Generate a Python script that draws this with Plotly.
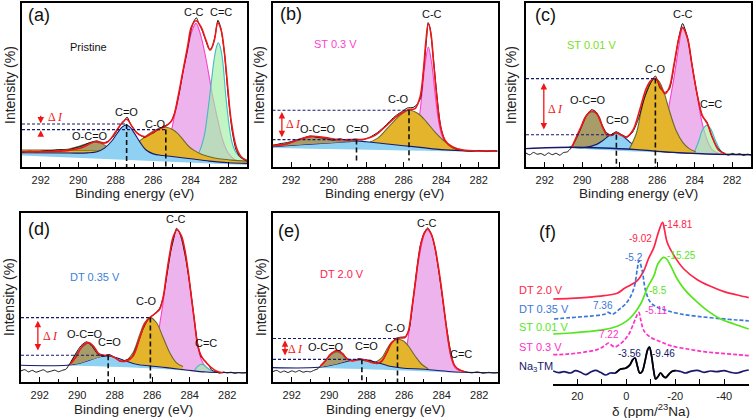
import plotly.graph_objects as go

W, H = 756, 418
FONT = "Arial, Liberation Sans, sans-serif"

# ====================== Panel (a) Pristine ======================
A_ENV_X = [293.0, 290.6, 289.9, 289.1, 288.5, 288.0, 287.66, 287.42, 287.12, 286.85, 286.4, 285.96, 285.6, 285.33, 285.06, 284.89, 284.71, 284.44, 284.17, 283.96, 283.72, 283.46, 283.19, 282.96, 282.74, 282.56, 282.38, 282.2, 282.03, 281.85, 281.58, 281.31, 281.0]
A_ENV_Y = [9.3, 10.0, 11.4, 15.4, 14.8, 21.5, 27.0, 29.1, 24.6, 20.5, 18.5, 21.5, 23.6, 25.0, 27.6, 31.7, 40.9, 57.1, 73.4, 85.6, 89.2, 85.6, 77.4, 71.3, 77.4, 88.0, 83.5, 69.3, 49.0, 28.7, 12.4, 6.3, 3.9]
A_DAT_X = [293.0, 292.6, 292.2, 291.8, 291.4, 291.0, 290.6, 290.2, 289.8, 289.4, 289.0, 288.7, 288.4, 288.1, 287.8, 287.55, 287.4, 287.2, 286.95, 286.7, 286.45, 286.2, 285.95, 285.7, 285.45, 285.2, 285.0, 284.8, 284.6, 284.4, 284.2, 284.0, 283.85, 283.7, 283.55, 283.4, 283.2, 283.0, 282.85, 282.7, 282.55, 282.4, 282.2, 282.0, 281.8, 281.6, 281.4, 281.2, 281.0]
A_DAT_Y = [9.0, 9.6, 9.2, 9.9, 10.1, 10.6, 10.3, 11.5, 12.8, 14.8, 15.9, 14.6, 15.8, 19.0, 24.8, 28.0, 30.5, 26.0, 21.8, 19.5, 18.0, 19.8, 21.0, 23.2, 24.8, 26.0, 28.5, 35.5, 46.0, 59.0, 70.0, 82.5, 88.5, 91.0, 87.0, 83.5, 77.0, 71.5, 73.5, 80.0, 89.5, 85.0, 69.0, 43.0, 22.5, 11.0, 6.5, 4.8, 3.5]
A_BASE_X = [293.0, 289.0, 286.5, 285.2, 284.2, 283.1, 282.0, 281.0]
A_BASE_Y = [8.7, 8.3, 7.3, 6.7, 5.3, 3.7, 2.6, 2.2]
A_CC_X = [285.6, 285.3, 285.06, 284.89, 284.71, 284.44, 284.17, 283.96, 283.72, 283.46, 283.19, 283.0, 282.83, 282.56, 282.3, 282.0, 281.6, 281.0]
A_CC_TOP = [6.8, 11.0, 20.5, 30.0, 39.0, 56.0, 71.0, 82.0, 87.6, 80.0, 66.0, 54.0, 43.0, 28.7, 16.5, 8.5, 4.0, 2.5]
A_CC_BX = [285.6, 284.2, 283.1, 282.0, 281.0]
A_CC_BY = [6.6, 5.3, 3.7, 2.6, 2.2]
A_CdC_X = [283.9, 283.6, 283.3, 283.1, 282.9, 282.75, 282.62, 282.53, 282.42, 282.3, 282.12, 281.95, 281.8, 281.6, 281.3, 281.0]
A_CdC_TOP = [4.5, 8.0, 18.0, 33.0, 52.0, 66.0, 73.5, 75.8, 73.0, 65.0, 42.0, 25.0, 15.0, 9.0, 5.5, 4.2]
A_CdC_BX = [283.9, 283.1, 282.0, 281.0]
A_CdC_BY = [4.3, 3.7, 2.6, 2.2]
A_CsO_X = [293.0, 290.0, 288.5, 287.5, 287.0, 286.6, 286.2, 285.8, 285.5, 285.3, 285.0, 284.7, 284.4, 284.1, 283.8, 283.4, 283.0, 282.5, 281.8, 281.0]
A_CsO_TOP = [10.4, 10.3, 10.5, 12.0, 14.0, 17.0, 20.5, 23.0, 24.0, 24.2, 23.0, 20.5, 16.5, 12.5, 10.0, 7.6, 6.2, 5.0, 4.2, 3.6]
A_OCO_X = [291.0, 290.5, 290.0, 289.6, 289.2, 289.0, 288.7, 288.45, 288.2]
A_OCO_TOP = [10.4, 11.0, 12.5, 14.0, 15.0, 15.0, 14.0, 12.3, 10.8]
A_OCO_BX = [291.0, 288.2]
A_OCO_BY = [10.3, 10.4]
A_CdO_X = [293.0, 290.5, 289.5, 289.0, 288.6, 288.2, 287.9, 287.65, 287.45, 287.25, 287.0, 286.7, 286.4, 286.0, 285.5, 285.0, 284.0, 283.0, 282.0, 281.0]
A_CdO_TOP = [8.7, 8.5, 8.6, 9.3, 11.5, 16.0, 21.0, 24.5, 25.6, 24.5, 20.5, 15.0, 10.5, 8.0, 7.0, 6.4, 5.0, 3.6, 2.6, 2.2]
A_CdO_BX = [293.0, 281.0]
A_CdO_BY = [7.0, 1.2]
A_LBL = ["C-C", "C=C", "C=O", "C-O", "O-C=O"]
A_LBL_X = [283.81, 282.38, 287.42, 285.87, 289.35]
A_LBL_Y = [94.7, 94.7, 33.7, 26.2, 19.1]

# ====================== Panel (b) ST 0.3 V ======================
B_ENV_X = [293.0, 292.33, 291.61, 290.9, 290.19, 289.48, 288.77, 288.06, 287.53, 287.0, 286.46, 286.02, 285.75, 285.4, 285.13, 284.95, 284.83, 284.69, 284.55, 284.42, 284.24, 284.07, 283.8, 283.44, 282.73, 281.0]
B_ENV_Y = [13.2, 13.8, 16.7, 18.7, 17.9, 16.7, 16.7, 17.1, 19.3, 24.4, 30.1, 33.5, 35.0, 35.6, 42.7, 58.9, 75.2, 87.4, 81.3, 65.0, 42.7, 26.4, 16.3, 12.2, 10.2, 9.8]
B_DAT_X = [293.0, 292.6, 292.2, 291.8, 291.4, 291.0, 290.6, 290.2, 289.8, 289.4, 289.0, 288.6, 288.2, 287.8, 287.4, 287.0, 286.7, 286.4, 286.1, 285.8, 285.5, 285.3, 285.1, 284.95, 284.8, 284.7, 284.6, 284.45, 284.3, 284.15, 284.0, 283.8, 283.5, 283.2, 282.8, 282.4, 282.0, 281.6, 281.2, 281.0]
B_DAT_Y = [13.0, 14.2, 14.9, 16.2, 17.5, 18.9, 18.0, 17.6, 16.4, 17.2, 16.2, 17.0, 16.6, 18.2, 21.0, 25.0, 28.5, 31.5, 33.8, 36.0, 36.3, 38.0, 42.0, 58.0, 76.0, 88.0, 85.0, 70.0, 52.0, 35.0, 23.0, 16.0, 12.5, 10.8, 10.0, 9.6, 10.1, 9.4, 9.9, 9.6]
B_CdO_X = [293.0, 291.5, 290.0, 289.0, 288.5, 288.0, 287.0, 286.0, 285.0, 284.0, 283.0, 281.0]
B_CdO_TOP = [12.4, 13.6, 14.6, 15.4, 15.9, 15.4, 14.2, 13.0, 11.8, 10.6, 10.0, 9.8]
B_CdO_BX = [293.0, 283.0, 281.0]
B_CdO_BY = [11.6, 9.6, 9.5]
B_OCO_X = [293.0, 292.3, 291.7, 291.2, 290.9, 290.5, 290.0, 289.5, 289.0, 288.6]
B_OCO_TOP = [13.2, 14.0, 16.0, 17.9, 18.5, 18.1, 16.8, 16.0, 15.8, 15.9]
B_OCO_BX = [293.0, 291.5, 290.0, 289.0, 288.6]
B_OCO_BY = [12.4, 13.6, 14.6, 15.4, 15.8]
B_CsO_X = [287.8, 287.35, 287.0, 286.64, 286.2, 285.72, 285.22, 284.78, 284.33, 283.89, 283.44, 283.0]
B_CsO_TOP = [15.2, 17.9, 22.0, 26.4, 31.5, 34.6, 32.5, 27.4, 21.3, 16.3, 12.8, 10.6]
B_CsO_BX = [287.8, 287.0, 286.0, 285.0, 284.0, 283.0]
B_CsO_BY = [15.2, 14.2, 13.0, 11.8, 10.6, 10.0]
B_CC_X = [285.6, 285.3, 285.13, 285.0, 284.86, 284.69, 284.51, 284.33, 284.15, 283.95, 283.7, 283.4]
B_CC_TOP = [13.0, 22.0, 34.0, 48.0, 63.0, 73.2, 63.0, 44.7, 28.5, 18.5, 13.5, 11.0]
B_CC_BX = [285.6, 283.4]
B_CC_BY = [12.8, 10.2]
B_LBL = ["O-C=O", "C=O", "C-O", "C-C"]
B_LBL_X = [290.55, 288.45, 286.29, 284.51]
B_LBL_Y = [23.4, 23.4, 41.7, 93.5]

# ====================== Panel (c) ST 0.01 V ======================
C_ENV_X = [290.55, 290.11, 289.76, 289.5, 289.23, 288.88, 288.7, 288.44, 288.18, 287.91, 287.65, 287.3, 286.94, 286.59, 286.33, 286.1, 285.8, 285.59, 285.36, 285.1, 284.83, 284.65, 284.39, 284.13, 283.86, 283.6, 283.33, 283.07, 282.72, 282.37]
C_ENV_Y = [12.2, 23.4, 31.5, 34.1, 32.5, 23.4, 19.9, 19.3, 20.7, 19.3, 18.3, 22.4, 34.6, 47.8, 52.8, 53.9, 48.4, 44.7, 48.4, 63.0, 79.3, 85.0, 78.5, 61.0, 43.7, 31.5, 26.4, 18.3, 10.2, 8.1]
C_DAT_X = [293.0, 292.8, 292.6, 292.4, 292.2, 292.0, 291.8, 291.6, 291.4, 291.2, 291.0, 290.8, 290.6, 290.3, 290.0, 289.75, 289.5, 289.25, 289.0, 288.75, 288.5, 288.2, 287.9, 287.6, 287.3, 287.0, 286.7, 286.4, 286.1, 285.85, 285.6, 285.35, 285.1, 284.85, 284.65, 284.4, 284.15, 283.9, 283.6, 283.35, 283.1, 282.8, 282.5, 282.2, 282.0, 281.8, 281.6, 281.4, 281.2, 281.0]
C_DAT_Y = [8.5, 7.4, 8.9, 7.8, 8.2, 7.1, 8.6, 7.5, 8.4, 7.2, 8.8, 9.2, 11.5, 18.0, 25.5, 32.0, 35.0, 33.5, 27.0, 21.5, 19.5, 21.5, 19.8, 18.2, 21.5, 29.5, 41.5, 50.0, 55.5, 48.0, 45.5, 47.5, 62.0, 79.0, 87.5, 79.5, 62.5, 46.0, 31.0, 27.5, 19.0, 12.0, 8.6, 7.2, 8.3, 7.5, 8.1, 7.0, 7.8, 7.3]
C_BASE_X = [293.0, 290.64, 288.88, 287.12, 285.36, 283.6, 281.0]
C_BASE_Y = [11.2, 12.0, 11.6, 10.6, 9.1, 8.1, 7.5]
C_CdO_X = [290.7, 289.9, 289.23, 288.88, 288.53, 288.18, 287.82, 287.47, 287.12, 286.6, 285.4, 284.2]
C_CdO_TOP = [12.0, 11.9, 13.8, 16.3, 19.3, 20.7, 18.7, 15.2, 12.6, 10.5, 9.1, 8.6]
C_CdO_BX = [290.7, 287.0, 284.2]
C_CdO_BY = [11.5, 9.4, 8.2]
C_OCO_X = [290.64, 290.46, 290.11, 289.85, 289.5, 289.14, 288.88, 288.62, 288.35]
C_OCO_TOP = [12.0, 14.2, 22.4, 30.5, 33.5, 31.5, 23.4, 17.3, 13.0]
C_OCO_BX = [290.64, 288.35]
C_OCO_BY = [12.0, 11.5]
C_CsO_X = [287.5, 287.12, 286.85, 286.59, 286.33, 286.1, 285.88, 285.62, 285.36, 285.0, 284.65, 284.3, 283.95]
C_CsO_TOP = [10.8, 20.3, 34.6, 45.7, 52.2, 53.9, 51.8, 44.7, 34.6, 22.4, 15.2, 11.2, 9.3]
C_CsO_BX = [287.5, 285.36, 283.95]
C_CsO_BY = [10.7, 9.1, 8.6]
C_CC_X = [285.9, 285.59, 285.36, 285.1, 284.83, 284.65, 284.39, 284.13, 283.86, 283.6, 283.33, 283.07, 282.72]
C_CC_TOP = [9.3, 20.0, 38.0, 55.0, 75.0, 85.4, 79.3, 61.0, 42.7, 26.4, 16.3, 10.6, 8.2]
C_CC_BX = [285.9, 283.6, 282.72]
C_CC_BY = [9.2, 8.1, 7.9]
C_CdC_X = [284.04, 283.77, 283.6, 283.37, 283.16, 282.9, 282.63, 282.37]
C_CdC_TOP = [8.6, 16.3, 22.4, 25.4, 23.4, 16.3, 10.2, 8.1]
C_CdC_BX = [284.04, 282.37]
C_CdC_BY = [8.3, 7.9]
C_LBL = ["O-C=O", "C=O", "C-O", "C-C", "C=C"]
C_LBL_X = [289.7, 288.12, 286.1, 284.65, 283.16]
C_LBL_Y = [40.7, 28.9, 60.0, 93.5, 38.2]

# ====================== Panel (d) DT 0.35 V ======================
D_ENV_X = [290.38, 290.03, 289.76, 289.41, 289.14, 288.88, 288.61, 288.35, 287.99, 287.73, 287.37, 287.02, 286.66, 286.4, 286.13, 285.78, 285.6, 285.42, 285.25, 285.07, 284.89, 284.68, 284.45, 284.27, 284.1, 283.92, 283.74, 283.57, 283.39, 283.21, 282.95, 282.59, 282.24]
D_ENV_Y = [10.5, 15.4, 20.9, 23.3, 21.3, 17.0, 15.8, 15.8, 14.4, 12.5, 12.5, 15.4, 26.3, 34.2, 38.1, 41.1, 43.1, 50.0, 62.8, 75.7, 85.6, 90.1, 86.6, 78.7, 66.8, 51.0, 35.2, 21.3, 15.4, 12.5, 9.5, 6.5, 5.5]
D_DAT_X = [293.0, 292.8, 292.6, 292.4, 292.2, 292.0, 291.8, 291.6, 291.4, 291.2, 291.0, 290.8, 290.6, 290.4, 290.1, 289.8, 289.5, 289.2, 288.9, 288.6, 288.3, 288.0, 287.7, 287.4, 287.1, 286.8, 286.5, 286.2, 285.9, 285.6, 285.4, 285.2, 285.0, 284.85, 284.7, 284.55, 284.4, 284.2, 284.0, 283.8, 283.6, 283.4, 283.2, 283.0, 282.8, 282.6, 282.4, 282.2, 282.0, 281.8, 281.6, 281.4, 281.2, 281.0]
D_DAT_Y = [6.6, 7.3, 6.0, 6.9, 5.8, 6.5, 7.2, 5.9, 6.4, 7.0, 6.1, 6.9, 7.6, 10.8, 16.5, 21.5, 23.8, 21.0, 16.4, 15.2, 16.3, 14.5, 12.2, 13.0, 14.5, 22.0, 31.0, 37.5, 40.0, 43.8, 51.0, 64.5, 78.0, 85.0, 91.0, 88.5, 83.0, 72.0, 58.0, 41.0, 24.0, 14.8, 12.8, 10.0, 6.8, 6.0, 5.2, 5.9, 5.4, 5.8, 5.1, 5.6, 5.3, 5.5]
D_CdO_X = [293.0, 290.56, 289.85, 289.32, 288.79, 288.35, 287.9, 287.37, 286.84, 286.13, 285.25, 284.19, 283.12, 281.0]
D_CdO_TOP = [9.9, 9.9, 11.1, 13.0, 15.0, 15.4, 14.4, 12.3, 10.5, 9.5, 8.5, 7.1, 5.9, 5.5]
D_CdO_BX = [293.0, 290.56, 286.0, 283.5, 281.0]
D_CdO_BY = [9.9, 9.7, 8.0, 6.3, 5.5]
D_OCO_X = [290.38, 290.0, 289.67, 289.41, 289.14, 288.87, 288.7]
D_OCO_TOP = [10.5, 17.4, 21.3, 22.9, 20.9, 17.0, 15.2]
D_OCO_BX = [290.38, 289.85, 289.32, 288.7]
D_OCO_BY = [10.2, 11.1, 13.0, 15.0]
D_CsO_X = [287.4, 287.02, 286.66, 286.4, 286.1, 285.78, 285.42, 285.07, 284.72, 284.36]
D_CsO_TOP = [12.0, 17.4, 28.3, 35.2, 38.1, 35.2, 26.3, 17.4, 11.5, 9.1]
D_CsO_BX = [287.4, 286.13, 285.25, 284.36]
D_CsO_BY = [11.8, 9.5, 8.5, 7.6]
D_CC_X = [286.2, 285.78, 285.6, 285.42, 285.25, 285.07, 284.89, 284.68, 284.45, 284.27, 284.1, 283.92, 283.74, 283.57, 283.39, 283.12, 282.77]
D_CC_TOP = [9.5, 20.0, 34.2, 47.0, 61.9, 74.7, 84.6, 90.1, 86.2, 77.7, 65.8, 50.0, 34.2, 21.3, 13.4, 8.5, 6.5]
D_CC_BX = [286.2, 285.25, 284.19, 283.12, 282.77]
D_CC_BY = [9.4, 8.5, 7.1, 5.9, 5.8]
D_CdC_X = [283.74, 283.55, 283.39, 283.2, 283.0, 282.77]
D_CdC_TOP = [7.0, 9.5, 10.5, 9.6, 7.8, 6.2]
D_CdC_BX = [283.74, 282.77]
D_CdC_BY = [6.7, 5.8]
D_LBL = ["O-C=O", "C=O", "C-O", "C-C", "C=C"]
D_LBL_X = [289.58, 288.26, 286.31, 284.72, 283.12]
D_LBL_Y = [28.7, 23.7, 48.0, 96.4, 23.3]

# ====================== Panel (e) DT 2.0 V ======================
E_ENV_X = [290.47, 290.2, 289.94, 289.58, 289.32, 289.05, 288.79, 288.52, 288.26, 287.99, 287.73, 287.46, 287.19, 286.93, 286.66, 286.36, 286.13, 285.96, 285.78, 285.6, 285.42, 285.25, 285.07, 284.89, 284.75, 284.54, 284.36, 284.19, 284.01, 283.83, 283.65, 283.48, 283.3, 283.04, 282.77]
E_ENV_Y = [9.5, 12.5, 16.4, 18.4, 17.0, 13.8, 12.5, 13.0, 13.4, 12.5, 11.5, 11.1, 12.5, 17.4, 23.3, 25.7, 26.1, 26.3, 30.2, 43.1, 57.9, 72.7, 83.6, 88.9, 90.5, 87.0, 79.6, 68.8, 54.9, 39.1, 24.3, 14.4, 9.5, 7.1, 5.9]
E_DAT_X = [293.0, 292.8, 292.6, 292.4, 292.2, 292.0, 291.8, 291.6, 291.4, 291.2, 291.0, 290.8, 290.6, 290.4, 290.15, 289.9, 289.6, 289.3, 289.0, 288.7, 288.4, 288.1, 287.8, 287.5, 287.2, 286.95, 286.7, 286.45, 286.2, 285.95, 285.75, 285.55, 285.35, 285.15, 284.95, 284.75, 284.55, 284.35, 284.15, 283.95, 283.75, 283.55, 283.35, 283.15, 282.95, 282.7, 282.4, 282.1, 281.8, 281.5, 281.2, 281.0]
E_DAT_Y = [6.2, 6.9, 5.7, 6.5, 5.6, 6.6, 5.9, 6.8, 5.8, 6.3, 6.0, 7.0, 7.9, 10.5, 13.5, 16.8, 18.8, 17.2, 13.2, 12.8, 13.8, 12.5, 12.9, 10.8, 12.0, 17.0, 22.8, 25.8, 26.5, 26.8, 30.5, 47.0, 65.0, 80.5, 88.0, 91.2, 87.5, 79.0, 65.0, 49.0, 33.0, 19.5, 10.5, 7.8, 6.8, 6.0, 5.4, 6.0, 5.2, 5.7, 5.3, 5.6]
E_CdO_X = [293.0, 290.56, 289.67, 288.96, 288.26, 287.55, 286.84, 286.13, 284.89, 283.48, 281.0]
E_CdO_TOP = [8.5, 8.7, 10.5, 12.5, 13.4, 11.9, 9.5, 8.3, 7.5, 6.1, 5.5]
E_CdO_BX = [293.0, 290.56, 286.0, 283.5, 281.0]
E_CdO_BY = [8.5, 8.3, 6.8, 5.6, 5.2]
E_OCO_X = [290.47, 290.2, 289.94, 289.58, 289.32, 289.05, 288.79]
E_OCO_TOP = [9.3, 12.5, 15.8, 17.8, 16.4, 13.4, 12.8]
E_OCO_BX = [290.47, 289.67, 288.96, 288.79]
E_OCO_BY = [8.8, 10.5, 12.5, 12.7]
E_CsO_X = [287.5, 287.19, 286.93, 286.66, 286.36, 286.04, 285.78, 285.42, 285.07, 284.72]
E_CsO_TOP = [11.8, 14.4, 19.4, 23.7, 25.3, 24.3, 21.3, 15.4, 10.5, 7.9]
E_CsO_BX = [287.5, 286.84, 286.13, 284.72]
E_CsO_BY = [11.8, 9.5, 8.3, 7.4]
E_CC_X = [286.05, 285.92, 285.78, 285.6, 285.42, 285.25, 285.07, 284.89, 284.75, 284.54, 284.36, 284.19, 284.01, 283.83, 283.65, 283.48, 283.3, 283.04]
E_CC_TOP = [8.3, 16.0, 27.3, 41.1, 56.9, 70.8, 81.6, 88.5, 90.1, 86.6, 78.7, 67.8, 54.0, 38.1, 23.3, 13.4, 8.5, 6.5]
E_CC_BX = [286.05, 284.89, 283.48, 283.04]
E_CC_BY = [8.3, 7.5, 6.1, 6.0]
E_LBL = ["O-C=O", "C=O", "C-O", "C-C", "C=C"]
E_LBL_X = [290.17, 287.99, 286.49, 284.77, 282.95]
E_LBL_Y = [20.8, 21.3, 32.2, 94.1, 16.4]

# ====================== shared XPS annotations (a..e) ======================
DASH_CdO_X = [287.42, 288.52, 288.18, 288.35, 288.26]
DASH_CdO_Y = [26.2, 16.7, 19.7, 15.8, 13.4]
DASH_CsO_X = [285.33, 285.72, 286.1, 286.1, 286.36]
DASH_CsO_Y = [22.8, 34.6, 53.9, 38.1, 25.7]
DASH_VBOT = [0.0, 4.0, 0.0, 0.0, 0.0]
ARROW_X = [292.0, 292.5, 292.05, 292.1, 292.36]
ARROW_LO = [22.4, 17.3, 22.0, 17.8, 14.8]
ARROW_HI = [26.6, 33.5, 51.2, 36.2, 24.7]
DELTA_X = [291.23, 291.88, 291.43, 291.44, 291.8]
DELTA_Y = [30.7, 26.0, 35.6, 27.3, 19.4]
TAG_TXT = ["(a)", "(b)", "(c)", "(d)", "(e)"]
TAG_X = [292.12, 292.0, 291.96, 292.06, 292.15]
TAG_Y = [92.7, 93.5, 92.5, 90.5, 89.5]
STATE_TXT = ["Pristine", "ST 0.3 V", "ST 0.01 V", "DT 0.35 V", "DT 2.0 V"]
STATE_X = [289.44, 289.66, 289.5, 289.05, 289.32]
STATE_Y = [73.4, 75.2, 74.2, 61.9, 63.8]
STATE_COL = ["#111111", "#ff3fcf", "#77e01c", "#3b7fd8", "#ff2250"]
XPS_TICKS = [292, 290, 288, 286, 284, 282]

# ====================== Panel (f) 23Na NMR ======================
F_NA_X = [29.8, 27.5, 25.4, 22.7, 20.7, 18.6, 16.6, 14.5, 12.5, 10.5, 8.4, 6.5, 4.4, 2.3, 0.3, -1.5, -2.6, -3.56, -4.5, -5.5, -6.5, -7.7, -8.7, -9.46, -10.3, -11.2, -12.0, -13.0, -14.0, -15.2, -16.1, -17.2, -18.6, -20.1, -22.2, -24.2, -26.3, -29.0, -31.7, -34.4, -37.1, -39.9, -42.6, -45.3, -48.0, -50.0]
F_NA_Y = [7.8, 6.8, 7.4, 6.6, 8.0, 7.0, 5.6, 7.2, 8.2, 7.0, 5.4, 6.6, 6.6, 9.0, 9.5, 11.5, 14.5, 15.6, 11.0, 6.6, 7.5, 14.0, 20.5, 22.2, 17.0, 8.0, 3.0, 4.5, 6.6, 4.5, 3.8, 5.5, 7.5, 8.0, 7.5, 6.6, 7.6, 8.2, 7.0, 7.8, 7.4, 8.0, 7.0, 6.6, 7.8, 8.4]
F_ST03_X = [29.8, 25.4, 20.7, 15.9, 11.8, 9.1, 7.22, 6.1, 4.8, 3.0, 0.95, -1.1, -2.9, -4.0, -5.11, -6.0, -7.2, -9.9, -14.0, -18.1, -24.9, -31.7, -38.5, -45.3, -50.0]
F_ST03_Y = [17.6, 17.8, 18.4, 19.4, 20.6, 22.6, 24.6, 23.4, 22.2, 23.4, 26.0, 30.0, 36.0, 40.0, 43.0, 38.0, 32.0, 28.0, 25.4, 23.0, 21.0, 19.4, 18.4, 17.6, 17.0]
F_ST001_X = [29.8, 22.7, 15.9, 9.1, 3.7, -0.4, -3.1, -5.85, -7.9, -8.5, -11.3, -12.9, -15.25, -16.5, -18.1, -20.8, -24.2, -28.3, -33.1, -38.5, -44.0, -50.0]
F_ST001_Y = [30.0, 30.6, 31.4, 32.6, 34.6, 38.0, 42.0, 48.0, 55.0, 57.4, 65.0, 72.0, 76.0, 75.0, 71.0, 63.0, 56.0, 50.0, 44.0, 39.0, 36.0, 33.0]
F_DT035_X = [29.5, 22.7, 15.9, 10.5, 8.6, 7.36, 5.7, 3.0, 0.3, -1.8, -3.4, -4.5, -5.2, -6.5, -7.9, -9.9, -12.7, -16.7, -22.2, -29.0, -37.1, -45.3, -50.0]
F_DT035_Y = [39.0, 39.8, 40.6, 41.4, 42.0, 43.0, 41.8, 44.6, 48.0, 52.6, 59.0, 69.0, 74.0, 68.0, 56.0, 49.0, 46.0, 44.0, 42.0, 40.6, 39.4, 38.4, 37.9]
F_DT20_X = [29.8, 22.7, 15.9, 9.1, 3.7, 0.7, -1.8, -4.5, -7.2, -9.02, -11.3, -12.7, -14.81, -15.6, -16.7, -19.5, -23.5, -29.0, -34.4, -39.9, -45.3, -50.0]
F_DT20_Y = [51.0, 51.4, 52.0, 53.0, 54.4, 57.4, 59.4, 62.0, 68.0, 75.0, 82.0, 89.0, 97.0, 92.6, 85.0, 77.0, 69.0, 62.6, 58.6, 55.4, 53.4, 51.8]
F_VAL_TXT = ["-14.81", "-9.02", "-5.2", "-15.25", "-8.5", "7.36", "-5.11", "7.22", "-3.56", "-9.46"]
F_VAL_X = [-21.5, -5.85, -3.0, -22.4, -12.9, 9.4, -12.0, 7.1, -1.5, -15.4]
F_VAL_Y = [96.0, 87.6, 76.0, 77.0, 56.0, 47.0, 44.0, 29.6, 18.4, 18.6]
F_NAMES = ["DT 2.0 V", "DT 0.35 V", "ST 0.01 V", "ST 0.3 V", "Na<sub>3</sub>TM"]
F_TICKS = [20, 0, -20, -40]
F_TICK_TXT = ["20", "0", "-20", "-40"]
F_MINOR = [10, -10, -30]

# ====================== styles ======================
NAVY = "#16196b"
RED = "#f01616"
C_RED, C_BLUE, C_GREEN, C_MAG = "#ff2448", "#3a78d8", "#55e61e", "#ff2fc8"
STY = {
    "CC": ("rgba(230,150,230,0.72)", "#ff40c8"),
    "CdC": ("rgba(160,240,165,0.65)", "#45b8c8"),
    "CsO": ("#e3b42c", "#6b6a2e"),
    "CdO": ("#8fd1f2", NAVY),
    "OCO": ("#a89c68", "#7b6b50"),
}

PANELS = [
    dict(ax=("x", "y"), env=(A_ENV_X, A_ENV_Y), dat=(A_DAT_X, A_DAT_Y), base=None,
         comps=[("CC", A_CC_X, A_CC_TOP, A_CC_BX, A_CC_BY),
                ("CdC", A_CdC_X, A_CdC_TOP, A_CdC_BX, A_CdC_BY),
                ("CsO", A_CsO_X, A_CsO_TOP, A_BASE_X, A_BASE_Y),
                ("OCO", A_OCO_X, A_OCO_TOP, A_OCO_BX, A_OCO_BY),
                ("CdO", A_CdO_X, A_CdO_TOP, A_CdO_BX, A_CdO_BY)],
         lbl=(A_LBL, A_LBL_X, A_LBL_Y)),
    dict(ax=("x2", "y2"), env=(B_ENV_X, B_ENV_Y), dat=(B_DAT_X, B_DAT_Y), base=None,
         comps=[("CC", B_CC_X, B_CC_TOP, B_CC_BX, B_CC_BY),
                ("CsO", B_CsO_X, B_CsO_TOP, B_CsO_BX, B_CsO_BY),
                ("CdO", B_CdO_X, B_CdO_TOP, B_CdO_BX, B_CdO_BY),
                ("OCO", B_OCO_X, B_OCO_TOP, B_OCO_BX, B_OCO_BY)],
         lbl=(B_LBL, B_LBL_X, B_LBL_Y)),
    dict(ax=("x3", "y3"), env=(C_ENV_X, C_ENV_Y), dat=(C_DAT_X, C_DAT_Y), base=(C_BASE_X, C_BASE_Y),
         comps=[("CC", C_CC_X, C_CC_TOP, C_CC_BX, C_CC_BY),
                ("CdC", C_CdC_X, C_CdC_TOP, C_CdC_BX, C_CdC_BY),
                ("OCO", C_OCO_X, C_OCO_TOP, C_OCO_BX, C_OCO_BY),
                ("CdO", C_CdO_X, C_CdO_TOP, C_CdO_BX, C_CdO_BY),
                ("CsO", C_CsO_X, C_CsO_TOP, C_CsO_BX, C_CsO_BY)],
         lbl=(C_LBL, C_LBL_X, C_LBL_Y)),
    dict(ax=("x4", "y4"), env=(D_ENV_X, D_ENV_Y), dat=(D_DAT_X, D_DAT_Y), base=None,
         comps=[("CC", D_CC_X, D_CC_TOP, D_CC_BX, D_CC_BY),
                ("CdC", D_CdC_X, D_CdC_TOP, D_CdC_BX, D_CdC_BY),
                ("CsO", D_CsO_X, D_CsO_TOP, D_CsO_BX, D_CsO_BY),
                ("CdO", D_CdO_X, D_CdO_TOP, D_CdO_BX, D_CdO_BY),
                ("OCO", D_OCO_X, D_OCO_TOP, D_OCO_BX, D_OCO_BY)],
         lbl=(D_LBL, D_LBL_X, D_LBL_Y)),
    dict(ax=("x5", "y5"), env=(E_ENV_X, E_ENV_Y), dat=(E_DAT_X, E_DAT_Y), base=None,
         comps=[("CC", E_CC_X, E_CC_TOP, E_CC_BX, E_CC_BY),
                ("CsO", E_CsO_X, E_CsO_TOP, E_CsO_BX, E_CsO_BY),
                ("CdO", E_CdO_X, E_CdO_TOP, E_CdO_BX, E_CdO_BY),
                ("OCO", E_OCO_X, E_OCO_TOP, E_OCO_BX, E_OCO_BY)],
         lbl=(E_LBL, E_LBL_X, E_LBL_Y)),
]

fig = go.Figure()
annotations = []


def add_line(ax, x, y, color, width, dash="solid", shape="spline", smoothing=1.0):
    fig.add_trace(go.Scatter(x=x, y=y, mode="lines", xaxis=ax[0], yaxis=ax[1],
                             line=dict(color=color, width=width, dash=dash, shape=shape, smoothing=smoothing),
                             hoverinfo="skip", showlegend=False))


def add_band(ax, x, top, bx, by, fill, outline):
    fig.add_trace(go.Scatter(x=bx, y=by, mode="lines", xaxis=ax[0], yaxis=ax[1],
                             line=dict(width=0, color="rgba(0,0,0,0)", shape="spline"),
                             hoverinfo="skip", showlegend=False))
    fig.add_trace(go.Scatter(x=x, y=top, mode="lines", xaxis=ax[0], yaxis=ax[1], fill="tonexty",
                             fillcolor=fill, line=dict(color=outline, width=1.1, shape="spline"),
                             hoverinfo="skip", showlegend=False))


def ann(text, x, y, xref, yref, size=11, color="#111", xanchor="center", yanchor="middle",
        angle=0, family=FONT):
    annotations.append(dict(text=text, x=x, y=y, xref=xref, yref=yref, showarrow=False,
                            xanchor=xanchor, yanchor=yanchor, textangle=angle,
                            font=dict(size=size, color=color, family=family)))


def arrow(ax, x, y_from, y_to, both):
    annotations.append(dict(x=x, y=y_to, ax=x, ay=y_from, xref=ax[0], yref=ax[1],
                            axref=ax[0], ayref=ax[1], text="", showarrow=True,
                            arrowhead=2, startarrowhead=2, arrowsize=1, startarrowsize=1,
                            arrowwidth=1.3, arrowcolor=RED,
                            arrowside="end+start" if both else "end"))


for i, p in enumerate(PANELS):
    ax = p["ax"]
    for key, x, top, bx, by in p["comps"]:
        add_band(ax, x, top, bx, by, STY[key][0], STY[key][1])
    if p["base"] is not None:
        add_line(ax, p["base"][0], p["base"][1], NAVY, 1.4)
    add_line(ax, p["dat"][0], p["dat"][1], "#111111", 1.0, smoothing=0.6)
    add_line(ax, p["env"][0], p["env"][1], RED, 1.6)
    # dashed guide lines
    add_line(ax, [293, DASH_CdO_X[i]], [DASH_CdO_Y[i]] * 2, NAVY, 1.1, dash="3px,2px", shape="linear")
    add_line(ax, [293, DASH_CsO_X[i]], [DASH_CsO_Y[i]] * 2, NAVY, 1.1, dash="3px,2px", shape="linear")
    add_line(ax, [DASH_CdO_X[i]] * 2, [DASH_CdO_Y[i], DASH_VBOT[i]], "#111111", 1.6, dash="5px,3px", shape="linear")
    add_line(ax, [DASH_CsO_X[i]] * 2, [DASH_CsO_Y[i], DASH_VBOT[i]], "#111111", 1.6, dash="5px,3px", shape="linear")
    # delta I arrows
    if i == 0:
        arrow(ax, ARROW_X[i], ARROW_HI[i] + 5.5, ARROW_HI[i], False)
        arrow(ax, ARROW_X[i], ARROW_LO[i] - 4.5, ARROW_LO[i], False)
    else:
        arrow(ax, ARROW_X[i], ARROW_LO[i], ARROW_HI[i], True)
    ann("\u0394 <i>I</i>", DELTA_X[i], DELTA_Y[i], ax[0], ax[1], size=12, color=RED,
        family="Times New Roman, Liberation Serif, serif")
    for t, lx, ly in zip(*p["lbl"]):
        ann(t, lx, ly, ax[0], ax[1], size=11)
    ann(TAG_TXT[i], TAG_X[i], TAG_Y[i], ax[0], ax[1], size=18)
    ann(STATE_TXT[i], STATE_X[i], STATE_Y[i], ax[0], ax[1], size=11, color=STATE_COL[i])

# ---- panel (f) ----
AXF = ("x6", "y6")
add_line(AXF, F_DT20_X, F_DT20_Y, C_RED, 1.7)
add_line(AXF, F_DT035_X, F_DT035_Y, C_BLUE, 1.7, dash="4px,2px")
add_line(AXF, F_ST001_X, F_ST001_Y, C_GREEN, 1.7)
add_line(AXF, F_ST03_X, F_ST03_Y, C_MAG, 1.7, dash="4px,2px")
add_line(AXF, F_NA_X, F_NA_Y, NAVY, 1.7)
add_line(AXF, F_NA_X[12:34], F_NA_Y[12:34], "#000000", 1.7)
F_VAL_COL = [C_RED, C_RED, C_BLUE, C_GREEN, C_GREEN, C_BLUE, C_MAG, C_MAG, NAVY, NAVY]
for t, vx, vy, c in zip(F_VAL_TXT, F_VAL_X, F_VAL_Y, F_VAL_COL):
    ann(t, vx, vy, "x6", "y6", size=10, color=c)
F_NAME_COL = [C_RED, C_BLUE, C_GREEN, C_MAG, NAVY]
F_NAME_PY = [290, 309, 327.3, 346.7, 366.7]
for t, c, py in zip(F_NAMES, F_NAME_COL, F_NAME_PY):
    ann(t, 517 / W, 1 - py / H, "paper", "paper", size=11, color=c, xanchor="left")
ann("(f)", 547 / W, 1 - 232 / H, "paper", "paper", size=18)

# ---- axis titles ----
for cx, cy in [(134.5, 193), (384.5, 193), (638.5, 193), (133.5, 409), (385.5, 409)]:
    ann("Binding energy (eV)", cx / W, 1 - cy / H, "paper", "paper", size=13.5, color="#222")
for cx, cy in [(10, 85), (259, 85), (511, 85), (9, 297), (261, 297)]:
    ann("Intensity (%)", cx / W, 1 - cy / H, "paper", "paper", size=14, color="#222", angle=-90)
ann("\u03b4 (ppm/<sup>23</sup>Na)", 651 / W, 1 - 410 / H, "paper", "paper", size=13.5, color="#222")


def xps_x(dom, anchor):
    return dict(domain=dom, anchor=anchor, range=[293, 281], tickmode="array", tickvals=XPS_TICKS,
                ticks="inside", ticklen=5, tickwidth=1.2, tickcolor="black",
                minor=dict(ticks="inside", ticklen=3, tickwidth=1, tickcolor="black",
                           tickmode="linear", tick0=281, dtick=1),
                showline=True, linecolor="black", linewidth=1.6, mirror=True,
                showgrid=False, zeroline=False, ticklabelstandoff=2,
                tickfont=dict(size=11, color="#222", family=FONT))


def xps_y(dom, anchor):
    return dict(domain=dom, anchor=anchor, range=[0, 100], showticklabels=False, ticks="",
                showline=True, linecolor="black", linewidth=1.6, mirror=True,
                showgrid=False, zeroline=False)


ROW1 = [1 - 167 / H, 1 - 3 / H]
ROW2 = [1 - 382 / H, 1 - 213 / H]

fig.update_layout(
    width=W, height=H, margin=dict(l=0, r=0, t=0, b=0),
    paper_bgcolor="white", plot_bgcolor="white", showlegend=False,
    font=dict(family=FONT, size=11, color="#222"),
    xaxis=xps_x([22 / W, 247 / W], "y"), yaxis=xps_y(ROW1, "x"),
    xaxis2=xps_x([272.5 / W, 497.5 / W], "y2"), yaxis2=xps_y(ROW1, "x2"),
    xaxis3=xps_x([526 / W, 751 / W], "y3"), yaxis3=xps_y(ROW1, "x3"),
    xaxis4=xps_x([21 / W, 246 / W], "y4"), yaxis4=xps_y(ROW2, "x4"),
    xaxis5=xps_x([273 / W, 498 / W], "y5"), yaxis5=xps_y(ROW2, "x5"),
    xaxis6=dict(domain=[553 / W, 749 / W], anchor="y6", range=[29.9, -50.1],
                tickmode="array", tickvals=F_TICKS, ticktext=F_TICK_TXT,
                ticks="inside", ticklen=5, tickwidth=1.3, tickcolor="black",
                minor=dict(ticks="inside", ticklen=5, tickwidth=1.3, tickcolor="black",
                           tickmode="array", tickvals=F_MINOR),
                showline=True, linecolor="black", linewidth=2, mirror=False,
                showgrid=False, zeroline=False, ticklabelstandoff=1,
                tickfont=dict(size=11, color="#222", family=FONT)),
    yaxis6=dict(domain=[1 - 384 / H, 1 - 209 / H], anchor="x6", range=[0, 105], visible=False),
    annotations=annotations,
)

fig.write_html("out.html", config={"displayModeBar": False},
               post_script="document.body.style.margin='0px';")
